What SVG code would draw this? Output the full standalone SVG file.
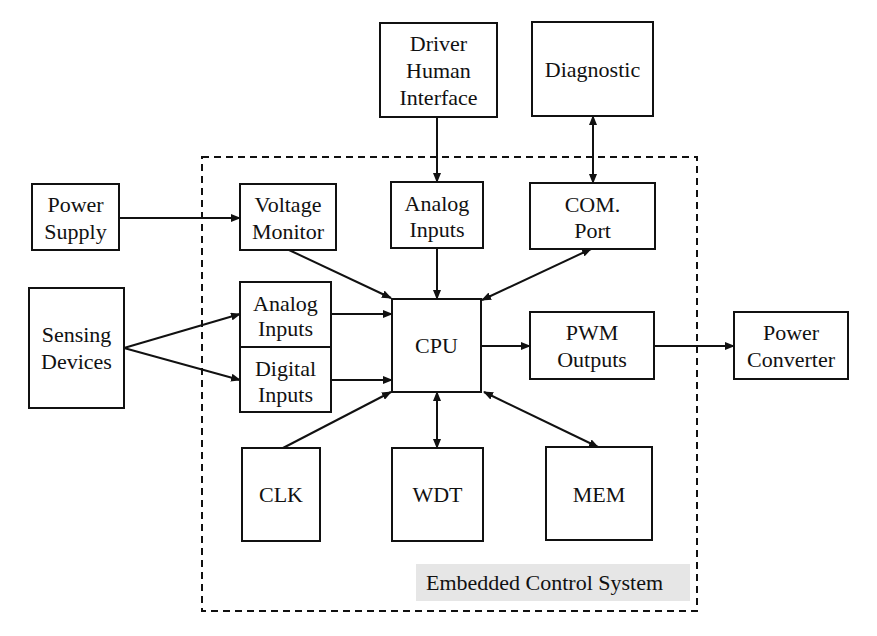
<svg xmlns="http://www.w3.org/2000/svg" width="877" height="636" viewBox="0 0 877 636">
<style>
.box{fill:#fff;stroke:#111;stroke-width:2}
.c{fill:none;stroke:#111;stroke-width:2;marker-end:url(#ah)}
.d{marker-start:url(#ah)}
</style>
<defs>
<marker id="ah" markerUnits="userSpaceOnUse" markerWidth="10" markerHeight="8" refX="9" refY="4" orient="auto-start-reverse">
<path d="M0,0 L10,4 L0,8 z" fill="#111"/>
</marker>
</defs>
<rect width="877" height="636" fill="#fff"/>
<g font-family="Liberation Serif, DejaVu Serif, serif" font-size="22" fill="#111" text-anchor="middle">
<g id="embedded-system">
<rect x="202" y="157" width="495" height="454" fill="none" stroke="#111" stroke-width="2" stroke-dasharray="7 5"/>
<rect x="416" y="564" width="274" height="37" fill="#e6e6e6"/>
<text x="426" y="590" text-anchor="start">Embedded Control System</text>
</g>
<g id="connectors">
<line class="c" x1="437" y1="117" x2="437" y2="182"/>
<line class="c d" x1="593" y1="116" x2="593" y2="183"/>
<line class="c" x1="119" y1="218" x2="240" y2="218"/>
<line class="c" x1="289" y1="250" x2="391" y2="298"/>
<line class="c" x1="437" y1="248" x2="437" y2="299"/>
<line class="c d" x1="591" y1="249" x2="482" y2="300"/>
<line class="c" x1="124" y1="348" x2="240" y2="314"/>
<line class="c" x1="124" y1="348" x2="240" y2="380"/>
<line class="c" x1="331" y1="314" x2="392" y2="314"/>
<line class="c" x1="331" y1="380" x2="392" y2="380"/>
<line class="c" x1="283" y1="448" x2="391" y2="392"/>
<line class="c" x1="481" y1="346" x2="530" y2="346"/>
<line class="c" x1="654" y1="346" x2="734" y2="346"/>
<line class="c d" x1="437" y1="392" x2="437" y2="448"/>
<line class="c d" x1="484" y1="392" x2="598" y2="447"/>
</g>
<g id="driver-hmi"><rect class="box" x="380" y="23" width="117" height="94"/><text x="438.5" y="51">Driver</text><text x="438.5" y="78">Human</text><text x="438.5" y="105">Interface</text></g>
<g id="diagnostic"><rect class="box" x="532" y="22" width="121" height="94"/><text x="592.5" y="77">Diagnostic</text></g>
<g id="power-supply"><rect class="box" x="32" y="184" width="87" height="66"/><text x="75.5" y="212">Power</text><text x="75.5" y="239">Supply</text></g>
<g id="voltage-monitor"><rect class="box" x="240" y="184" width="96" height="66"/><text x="288" y="212">Voltage</text><text x="288" y="239">Monitor</text></g>
<g id="analog-inputs-top"><rect class="box" x="391" y="182" width="92" height="66"/><text x="437" y="211">Analog</text><text x="437" y="237">Inputs</text></g>
<g id="com-port"><rect class="box" x="530" y="183" width="125" height="66"/><text x="592.5" y="212">COM.</text><text x="592.5" y="238">Port</text></g>
<g id="sensing-devices"><rect class="box" x="29" y="288" width="95" height="120"/><text x="76.5" y="342">Sensing</text><text x="76.5" y="369">Devices</text></g>
<g id="analog-inputs-left"><rect class="box" x="240" y="282" width="91" height="65"/><text x="285.5" y="311">Analog</text><text x="285.5" y="336">Inputs</text></g>
<g id="digital-inputs"><rect class="box" x="240" y="347" width="91" height="65"/><text x="285.5" y="376">Digital</text><text x="285.5" y="402">Inputs</text></g>
<g id="cpu"><rect class="box" x="392" y="299" width="89" height="93"/><text x="436.5" y="353">CPU</text></g>
<g id="pwm-outputs"><rect class="box" x="530" y="312" width="124" height="67"/><text x="592" y="340">PWM</text><text x="592" y="367">Outputs</text></g>
<g id="power-converter"><rect class="box" x="734" y="312" width="114" height="67"/><text x="791" y="340">Power</text><text x="791" y="367">Converter</text></g>
<g id="clk"><rect class="box" x="242" y="448" width="78" height="93"/><text x="281" y="502">CLK</text></g>
<g id="wdt"><rect class="box" x="392" y="448" width="91" height="93"/><text x="437.5" y="502">WDT</text></g>
<g id="mem"><rect class="box" x="546" y="447" width="106" height="93"/><text x="599" y="502">MEM</text></g>
</g>
</svg>
